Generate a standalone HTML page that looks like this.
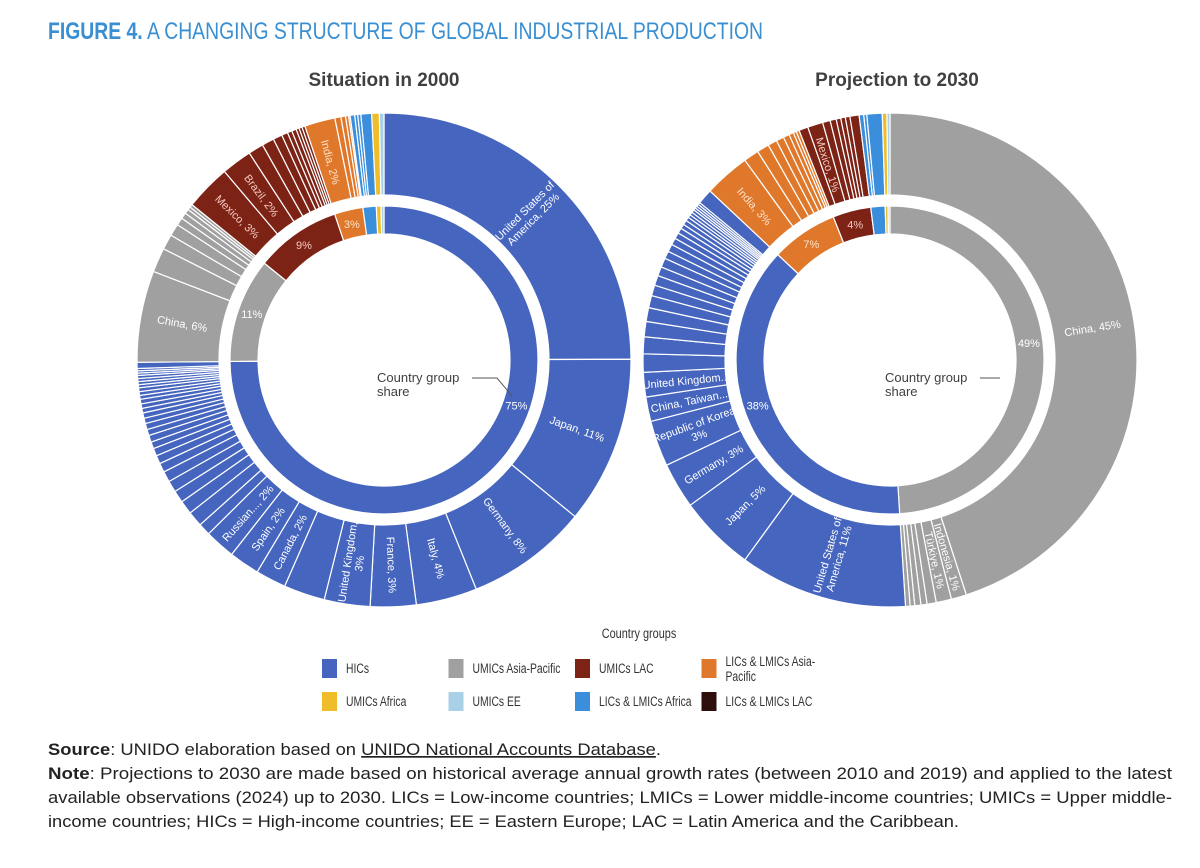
<!DOCTYPE html>
<html><head><meta charset="utf-8"><style>
html,body{margin:0;padding:0;background:#fff;}
svg{display:block;}
</style></head><body>
<svg id="fig" width="1200" height="868" viewBox="0 0 1200 868" xmlns="http://www.w3.org/2000/svg">
<text x="48" y="39" font-family="'Liberation Sans Narrow','Liberation Sans',sans-serif" font-size="24" fill="#3a8fd2" textLength="715" lengthAdjust="spacingAndGlyphs"><tspan font-weight="bold">FIGURE 4.</tspan> A CHANGING STRUCTURE OF GLOBAL INDUSTRIAL PRODUCTION</text>
<text x="384" y="86" text-anchor="middle" font-family="'Liberation Sans',sans-serif" font-size="19" font-weight="bold" fill="#404040">Situation in 2000</text>
<text x="897" y="86" text-anchor="middle" font-family="'Liberation Sans',sans-serif" font-size="19" font-weight="bold" fill="#404040">Projection to 2030</text>
<g id="left"></g>
<g id="right"></g>
<g font-family="'Liberation Sans',sans-serif" font-size="13" fill="#404040">
<text x="377" y="382">Country group</text><text x="377" y="396">share</text>
<polyline points="472,378 497,378 512,396" fill="none" stroke="#555" stroke-width="1"/>
</g>
<g font-family="'Liberation Sans',sans-serif" font-size="13" fill="#404040">
<text x="885" y="382">Country group</text><text x="885" y="396">share</text>
<polyline points="980,378 1000,378" fill="none" stroke="#555" stroke-width="1"/>
</g>
<g id="legend" font-family="'Liberation Sans',sans-serif" font-size="14" fill="#333">
<text transform="translate(639,638) scale(0.78,1)" text-anchor="middle">Country groups</text>
</g>
<g font-family="'Liberation Sans',sans-serif" font-size="17" fill="#222">
<text x="48" y="755" textLength="613" lengthAdjust="spacingAndGlyphs"><tspan font-weight="bold">Source</tspan>: UNIDO elaboration based on <tspan text-decoration="underline">UNIDO National Accounts Database</tspan>.</text>
<text x="48" y="779" textLength="1124" lengthAdjust="spacingAndGlyphs"><tspan font-weight="bold">Note</tspan>: Projections to 2030 are made based on historical average annual growth rates (between 2010 and 2019) and applied to the latest</text>
<text x="48" y="803" textLength="1124" lengthAdjust="spacingAndGlyphs">available observations (2024) up to 2030. LICs = Low-income countries; LMICs = Lower middle-income countries; UMICs = Upper middle-</text>
<text x="48" y="827" textLength="911" lengthAdjust="spacingAndGlyphs">income countries; HICs = High-income countries; EE = Eastern Europe; LAC = Latin America and the Caribbean.</text>
</g>
</svg>
<script>
const groupNames = ["HICs","UMICs Asia-Pacific","UMICs LAC","LICs & LMICs Asia-Pacific","UMICs Africa","UMICs EE","LICs & LMICs Africa","LICs & LMICs LAC"];
const groupColors = ["#4565be","#a0a0a0","#7d2316","#e0782b","#f0bd2a","#a8d0e6","#3a8edb","#2e0f0c"];

const leftGroupIdx = [0,1,2,3,6,4,5];
const leftGroupVals = [75,11,9,3,1.4,0.5,0.3];
const leftGroupLabels = ["75%","11%","9%","3%","","",""];

const leftCountryGroup = [0,0,0,0,0,0,0,0,0,0, 0,0,0,0,0,0,0,0,0,0,0,0,0,0,0,0,0,0,0,0,0,0,0,0,0,0,0,0,0,
 1,1,1,1,1,1,1,1,1, 2,2,2,2,2,2,2,2,2,2,2, 3,3,3,3,3, 6,6,6,6, 4, 5];
const leftCountryVals = [25,11,8,4,3,3,2.7,2,2,2,
 0.8,1.0,0.9,0.8,0.75,0.7,0.6,0.55,0.5,0.45,0.45,0.4,0.4,0.35,0.35,0.3,0.3,0.3,0.25,0.25,0.25,0.2,0.2,0.2,0.2,0.15,0.15,0.15,0.4,
 6,1.6,1.0,0.8,0.5,0.4,0.3,0.2,0.2,
 3,2,1.0,0.8,0.6,0.4,0.3,0.3,0.2,0.2,0.2,
 2,0.4,0.3,0.2,0.1,
 0.3,0.2,0.2,0.7, 0.5, 0.3];
const leftCountryLabels = {0:"United States of|America, 25%",1:"Japan, 11%",2:"Germany, 8%",3:"Italy, 4%",4:"France, 3%",5:"United Kingdom,|3%",7:"Canada, 2%",8:"Spain, 2%",9:"Russian..., 2%",39:"China, 6%",48:"Mexico, 3%",49:"Brazil, 2%",59:"India, 2%"};

const rightGroupIdx = [1,0,3,2,6,4,5];
const rightGroupVals = [49,38,7,4,1.5,0.3,0.2];
const rightGroupLabels = ["49%","38%","7%","4%","","",""];

const rightCountryGroup = [1,1,1,1,1,1,1,1,
 0,0,0,0,0,0, 0,0,0,0,0,0,0,0,0,0,0,0,0,0,0,0,0,0,0,0,0,0,0,0,0,
 3,3,3,3,3,3,3,3,3, 2,2,2,2,2,2,2,2, 6,6,6, 4, 5];
const rightCountryVals = [45,1,1,0.6,0.4,0.4,0.3,0.3,
 11,5,3,3,1.6,1.6,
 1.2,1.1,1.0,0.9,0.8,0.7,0.65,0.6,0.6,0.5,0.5,0.45,0.4,0.35,0.3,0.3,0.25,0.2,0.2,0.2,0.15,0.15,0.15,0.15,1.0,
 3,1.0,0.8,0.6,0.5,0.4,0.3,0.2,0.2,
 0.6,1.0,0.5,0.4,0.3,0.3,0.3,0.6,
 0.3,0.2,1.0, 0.3, 0.2];
const rightCountryLabels = {0:"China, 45%",1:"Indonesia, 1%",2:"Türkiye, 1%",8:"United States of|America, 11%",9:"Japan, 5%",10:"Germany, 3%",11:"Republic of Korea,|3%",12:"China, Taiwan...",13:"United Kingdom...",39:"India, 3%",49:"Mexico, 1%"};

const NS = "http://www.w3.org/2000/svg";
const R_OUT = 247, R_OUT_IN = 165, R_IN = 154, R_IN_IN = 126;

function pt(cx, cy, r, deg) {
  const a = deg * Math.PI / 180;
  return [cx + r * Math.sin(a), cy - r * Math.cos(a)];
}
function arcPath(cx, cy, r0, r1, a0, a1) {
  const large = (a1 - a0) > 180 ? 1 : 0;
  const p1 = pt(cx, cy, r1, a0), p2 = pt(cx, cy, r1, a1), p3 = pt(cx, cy, r0, a1), p4 = pt(cx, cy, r0, a0);
  return `M${p1[0]},${p1[1]}A${r1},${r1} 0 ${large} 1 ${p2[0]},${p2[1]}L${p3[0]},${p3[1]}A${r0},${r0} 0 ${large} 0 ${p4[0]},${p4[1]}Z`;
}
function addLabel(g, cx, cy, r, ang, txt, rotate, fill) {
  const p = pt(cx, cy, r, ang);
  let rot = 0;
  if (rotate) rot = ang < 180 ? ang - 90 : ang - 270;
  const t = document.createElementNS(NS, "text");
  
  
  t.setAttribute("text-anchor", "middle");
  t.setAttribute("font-family", "'Liberation Sans',sans-serif");
  t.setAttribute("font-size", "11");
  t.setAttribute("fill", fill);
  t.setAttribute("transform", `translate(${p[0]},${p[1]}) rotate(${rot})`);
  const lines = txt.split("|");
  lines.forEach((ln, i) => {
    const ts = document.createElementNS(NS, "tspan");
    ts.setAttribute("x", 0);
    ts.setAttribute("y", (i - (lines.length - 1) / 2) * 12 + 4);
    ts.textContent = ln;
    t.appendChild(ts);
  });
  g.appendChild(t);
}
function drawRing(g, cx, cy, r0, r1, vals, colorIdx, labels, rotate, labelR, overrides) {
  const total = vals.reduce((a, b) => a + b, 0);
  let acc = 0;
  vals.forEach((v, i) => {
    const a0 = acc / total * 360;
    acc += v;
    const a1 = acc / total * 360;
    const path = document.createElementNS(NS, "path");
    
    
    path.setAttribute("d", arcPath(cx, cy, r0, r1, a0, a1));
    path.setAttribute("fill", groupColors[colorIdx[i]]);
    path.setAttribute("stroke", "#fff");
    path.setAttribute("stroke-width", "1.2");
    g.appendChild(path);
    const lab = labels[i];
    if (lab) {
      const ang = (overrides && overrides[i] !== undefined) ? overrides[i] : (a0 + a1) / 2;
      const fill = colorIdx[i] === 2 ? "#f3c9c0" : (colorIdx[i] === 3 ? "#fde2cc" : "#fff");
      addLabel(g, cx, cy, labelR, ang, lab, rotate, fill);
    }
  });
}
function drawDonut(id, cx, gIdx, gVals, gLabels, cGroup, cVals, cLabels, innerOverride) {
  const g = document.getElementById(id);
  const cy = 360;
  const outerLabels = cVals.map((v, i) => cLabels[i] || "");
  drawRing(g, cx, cy, R_OUT_IN, R_OUT, cVals, cGroup, outerLabels, true, 205, null);
  drawRing(g, cx, cy, R_IN_IN, R_IN, gVals, gIdx, gLabels, false, 140, innerOverride);
}
drawDonut("left", 384, leftGroupIdx, leftGroupVals, leftGroupLabels, leftCountryGroup, leftCountryVals, leftCountryLabels, {0:109});
drawDonut("right", 890, rightGroupIdx, rightGroupVals, rightGroupLabels, rightCountryGroup, rightCountryVals, rightCountryLabels, {0:83, 1:251});

// legend
const legendOrder = [0,1,2,3,4,5,6,7];
const legendText = ["HICs","UMICs Asia-Pacific","UMICs LAC","LICs & LMICs Asia-|Pacific","UMICs Africa","UMICs EE","LICs & LMICs Africa","LICs & LMICs LAC"];
const lg = document.getElementById("legend");
legendOrder.forEach((gi, k) => {
  const col = k % 4, row = Math.floor(k / 4);
  const x = 322 + col * 126.5, y = 659 + row * 33;
  const item = document.createElementNS(NS, "g");
  
  
  const r = document.createElementNS(NS, "rect");
  
  
  r.setAttribute("x", x); r.setAttribute("y", y);
  r.setAttribute("width", 15); r.setAttribute("height", 19);
  r.setAttribute("fill", groupColors[gi]);
  item.appendChild(r);
  const lines = legendText[k].split("|");
  lines.forEach((ln, i) => {
    const t = document.createElementNS(NS, "text");
    
    
    const ty = y + 14 + i * 15 - (lines.length > 1 ? 7 : 0);
    t.setAttribute("transform", `translate(${x + 24},${ty}) scale(0.74,1)`);
    t.textContent = ln;
    item.appendChild(t);
  });
  lg.appendChild(item);
});
</script>
</body></html>
